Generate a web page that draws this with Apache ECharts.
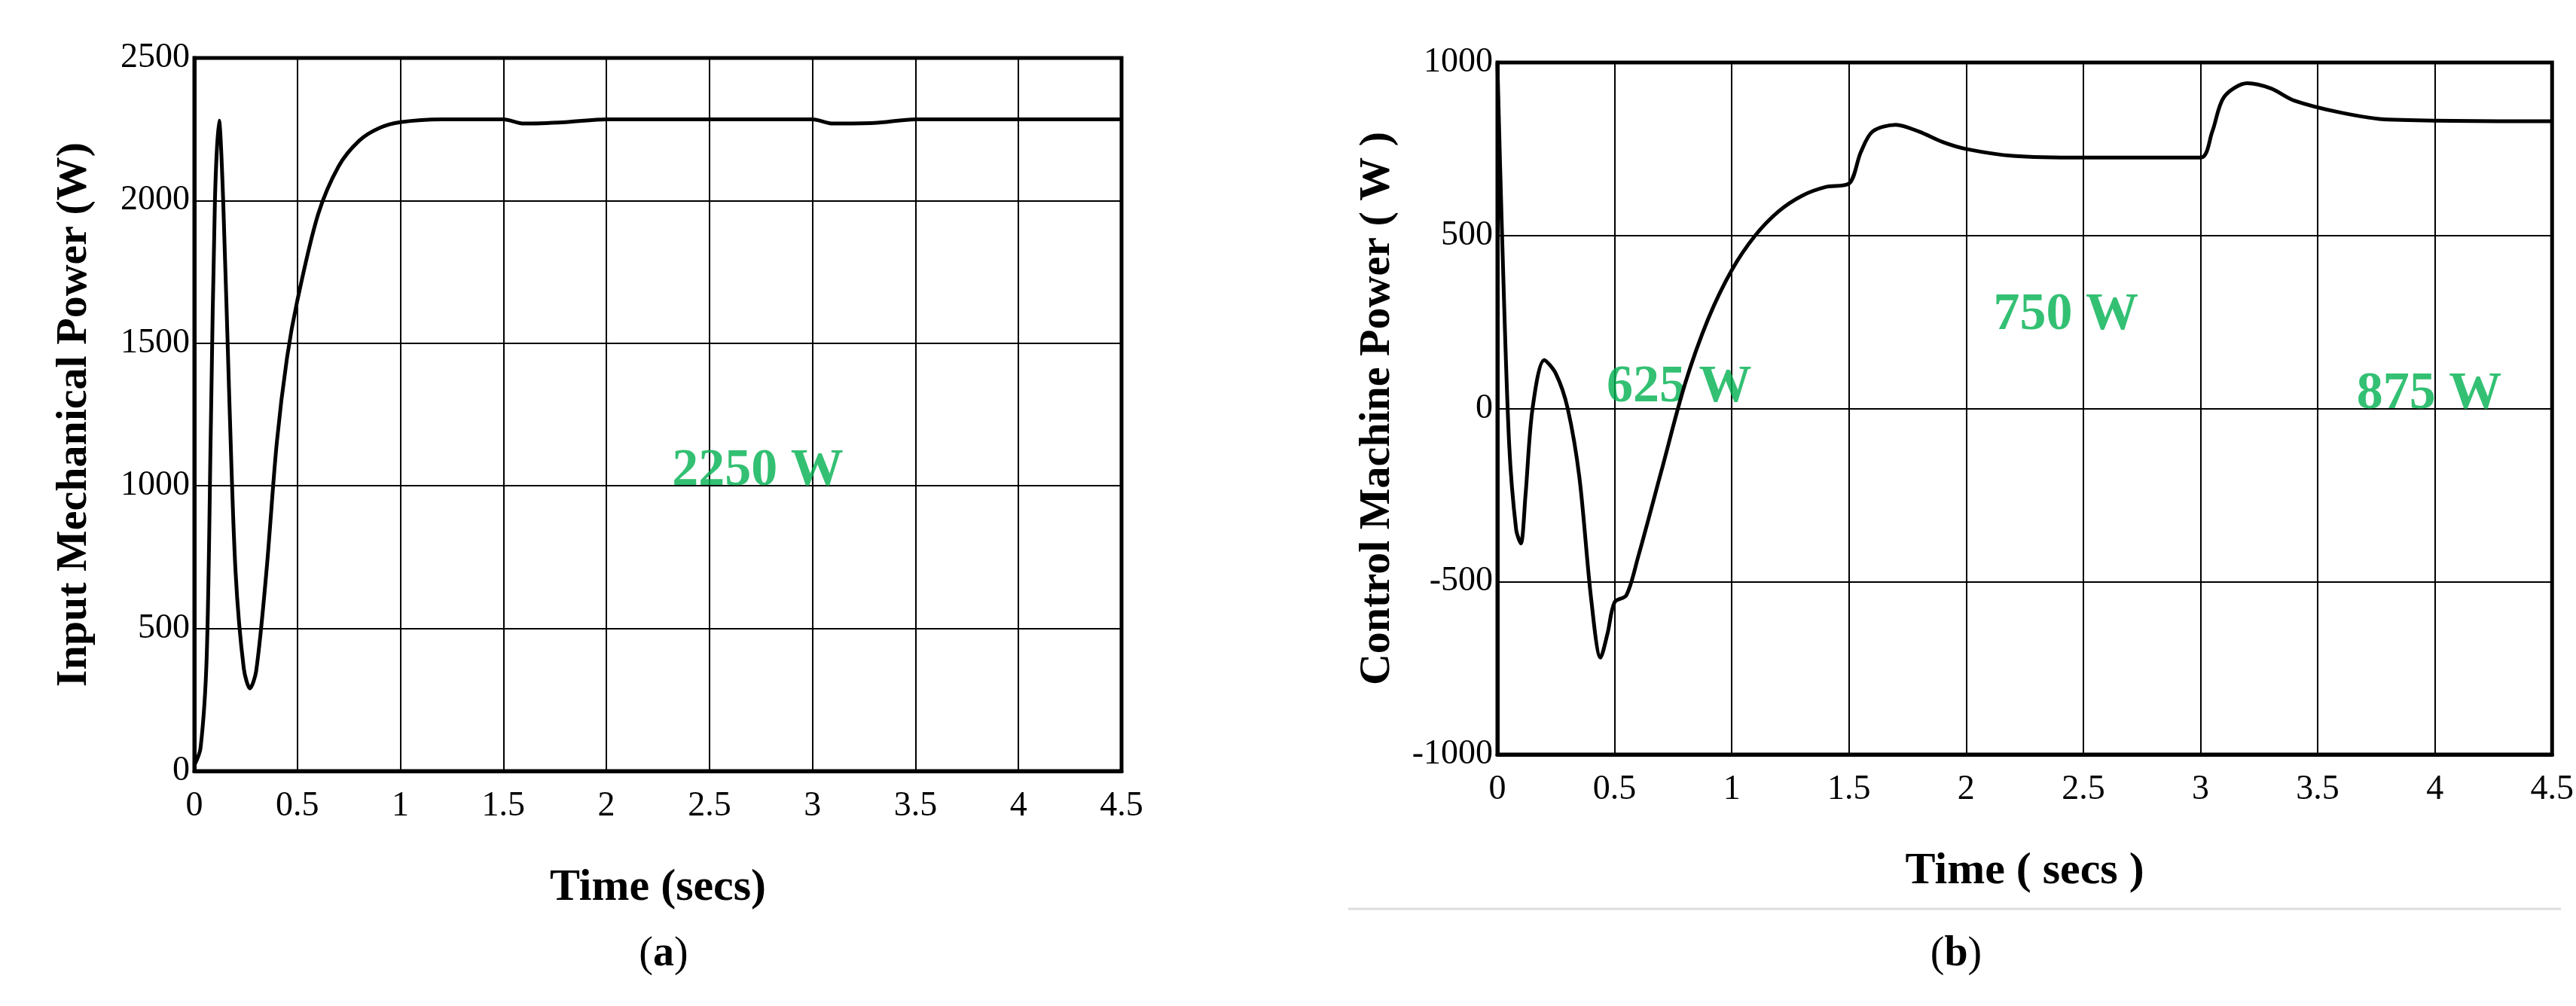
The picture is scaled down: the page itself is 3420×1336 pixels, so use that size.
<!doctype html>
<html>
<head>
<meta charset="utf-8">
<script src="https://cdn.jsdelivr.net/npm/echarts@6/dist/echarts.min.js"></script>
<style>
  html, body { margin: 0; padding: 0; background: #fff; }
  #chart { width: 3420px; height: 1336px; }
</style>
</head>
<body>
<div id="chart"></div>
<script>
  // (a) input mechanical power
  var timeA = [0, 0.03, 0.06, 0.08, 0.1, 0.12, 0.14, 0.17, 0.2, 0.24, 0.27, 0.3, 0.35, 0.4, 0.45, 0.5, 0.6, 0.7, 0.8, 0.9, 1.0, 1.2, 1.5, 1.6, 1.8, 2.0, 3.0, 3.1, 3.3, 3.5, 4.5];
  var powerA = [20, 80, 400, 1200, 2000, 2280, 2000, 1300, 700, 360, 290, 350, 700, 1150, 1450, 1650, 1950, 2120, 2210, 2255, 2275, 2285, 2285, 2270, 2275, 2285, 2285, 2270, 2272, 2285, 2285];
  // (b) control machine power
  var timeB = [0, 0.02, 0.05, 0.08, 0.1, 0.12, 0.15, 0.2, 0.25, 0.3, 0.35, 0.4, 0.44, 0.47, 0.5, 0.55, 0.6, 0.7, 0.8, 0.9, 1.0, 1.1, 1.2, 1.3, 1.4, 1.5, 1.55, 1.6, 1.7, 1.8, 1.9, 2.0, 2.2, 2.5, 3.0, 3.05, 3.1, 3.2, 3.3, 3.4, 3.6, 3.8, 4.5];
  var powerB = [1000, 500, -100, -350, -390, -250, 0, 140, 100, 0, -200, -550, -720, -650, -560, -540, -430, -180, 70, 260, 400, 500, 570, 615, 640, 650, 740, 800, 820, 800, 770, 750, 730, 725, 725, 800, 900, 940, 925, 890, 855, 835, 830];
  var labelsA = [{ t: 2.3, v: 1050, text: '2250 W' }];
  var labelsB = [{ t: 0.45, v: 60, text: '625 W' }, { t: 2.1, v: 270, text: '750 W' }, { t: 3.65, v: 40, text: '875 W' }];

  function pairs(xs, ys) {
    var out = [];
    for (var i = 0; i < xs.length; i++) out.push([xs[i], ys[i]]);
    return out;
  }
  var serif = 'Liberation Serif';
  function xAxis(idx) {
    return {
      type: 'value', gridIndex: idx, min: 0, max: 4.5, interval: 0.5,
      name: idx === 0 ? 'Time (secs)' : 'Time ( secs )', nameLocation: 'middle', nameGap: 125,
      nameTextStyle: { fontFamily: serif, fontWeight: 'bold', fontSize: 60, color: '#000' },
      axisLine: { onZero: false, lineStyle: { color: '#000', width: 5 } }, axisTick: { show: false },
      axisLabel: { fontFamily: serif, fontSize: 46, color: '#000', margin: 24 },
      splitLine: { lineStyle: { color: '#000', width: 2 } }
    };
  }
  function yAxis(idx, min, max, interval, name) {
    return {
      type: 'value', gridIndex: idx, min: min, max: max, interval: interval,
      name: name, nameLocation: 'middle', nameGap: 130,
      nameTextStyle: { fontFamily: serif, fontWeight: 'bold', fontSize: 58, color: '#000' },
      axisLine: { onZero: false, lineStyle: { color: '#000', width: 5 } }, axisTick: { show: false },
      axisLabel: { fontFamily: serif, fontSize: 46, color: '#000', margin: 6, formatter: function (v) { return String(v); } },
      splitLine: { lineStyle: { color: '#000', width: 2 } }
    };
  }
  function labelSeries(idx, list) {
    return {
      type: 'scatter', xAxisIndex: idx, yAxisIndex: idx, symbolSize: 0,
      data: list.map(function (d) { return { value: [d.t, d.v], name: d.text }; }),
      label: { show: true, formatter: '{b}', position: 'right', fontFamily: serif, fontWeight: 'bold', fontSize: 70, color: '#00b050' }
    };
  }
  function panelTitle(letter, x) {
    return {
      text: '({l|' + letter + '})', left: x, top: 1235, textAlign: 'center',
      textStyle: { fontFamily: serif, fontSize: 56, fontWeight: 'normal', color: '#000',
        rich: { l: { fontFamily: serif, fontSize: 56, fontWeight: 'bold', color: '#000' } } }
    };
  }
  var chart = echarts.init(document.getElementById('chart'));
  chart.setOption({
    backgroundColor: '#fff',
    animation: false,
    title: [panelTitle('a', 876), panelTitle('b', 2592)],
    graphic: [{ type: 'line', shape: { x1: 1790, y1: 1207, x2: 3400, y2: 1207 }, style: { stroke: '#ddd', lineWidth: 3 } }],
    grid: [
      { left: 258, width: 1231, top: 77, height: 947, show: true, borderColor: '#000', borderWidth: 5 },
      { left: 1988, width: 1404, top: 83, height: 919, show: true, borderColor: '#000', borderWidth: 5 }
    ],
    xAxis: [xAxis(0), xAxis(1)],
    yAxis: [
      yAxis(0, 0, 2500, 500, 'Input Mechanical Power (W)'),
      yAxis(1, -1000, 1000, 500, 'Control Machine Power ( W )')
    ],
    series: [
      { type: 'line', xAxisIndex: 0, yAxisIndex: 0, data: pairs(timeA, powerA), smooth: 0.3, showSymbol: false, lineStyle: { color: '#000', width: 5 } },
      { type: 'line', xAxisIndex: 1, yAxisIndex: 1, data: pairs(timeB, powerB), smooth: 0.3, showSymbol: false, lineStyle: { color: '#000', width: 5 } },
      labelSeries(0, labelsA),
      labelSeries(1, labelsB)
    ]
  });
</script>
</body>
</html>
